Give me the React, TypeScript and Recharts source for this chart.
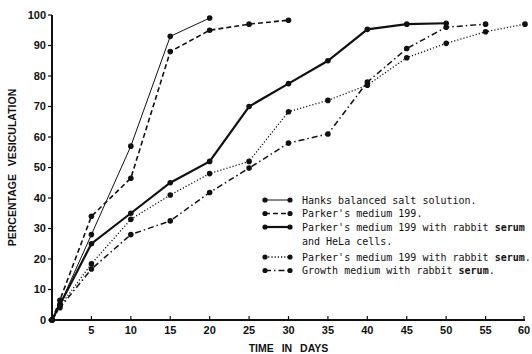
import React from 'react';
import { LineChart, Line, XAxis, YAxis } from 'recharts';

// days / percentage
const hanksDays = [0, 1, 5, 10, 15, 20];
const hanksPct = [0, 5, 28, 57, 93, 99];

const parkerDays = [0, 1, 5, 10, 15, 20, 25, 30];
const parkerPct = [0, 6.5, 34, 46.5, 88, 95, 97, 98.3];

const helaDays = [0, 1, 5, 10, 15, 20, 25, 30, 35, 40, 45, 50];
const helaPct = [0, 5, 25, 35, 45, 52, 70, 77.5, 85, 95.3, 97, 97.3];

const serumDays = [0, 1, 5, 10, 15, 20, 25, 30, 35, 40, 45, 50, 55, 60];
const serumPct = [0, 4.5, 18.4, 33, 41, 48, 52, 68.3, 72, 77, 86, 90.7, 94.5, 97];

const growthDays = [0, 1, 5, 10, 15, 20, 25, 30, 35, 40, 45, 50, 55];
const growthPct = [0, 4, 16.7, 28, 32.5, 41.8, 49.8, 58, 61, 78, 89, 96, 97];

const xTicks = [5, 10, 15, 20, 25, 30, 35, 40, 45, 50, 55, 60];
const yTicks = [0, 10, 20, 30, 40, 50, 60, 70, 80, 90, 100];

const toPoints = (days: number[], pct: number[]) =>
  days.map((d, i) => ({ day: d, pct: pct[i] }));

const series = [
  { key: 'hanks', data: toPoints(hanksDays, hanksPct), width: 1, dash: undefined, label: ['Hanks balanced salt solution.'] },
  { key: 'parker', data: toPoints(parkerDays, parkerPct), width: 1.6, dash: '5 3', label: ["Parker's medium 199."] },
  { key: 'hela', data: toPoints(helaDays, helaPct), width: 2.2, dash: undefined, label: ["Parker's medium 199 with rabbit serum", 'and HeLa cells.'] },
  { key: 'serum', data: toPoints(serumDays, serumPct), width: 1.3, dash: '1.2 2', label: ["Parker's medium 199 with rabbit serum."] },
  { key: 'growth', data: toPoints(growthDays, growthPct), width: 1.5, dash: '6 3 1.5 3', label: ['Growth medium with rabbit serum.'] },
];

const tickFont = { fontFamily: 'Liberation Sans, Arial, sans-serif', fontWeight: 700, fontSize: 11, fill: '#111' };

const XTick = (props: any) => {
  const { x, y, payload } = props;
  return (
    <g>
      <line x1={x} y1={y} x2={x} y2={y - 4} stroke="#111" strokeWidth={1.2} />
      <text x={x} y={y + 14} textAnchor="middle" {...tickFont}>
        {payload.value}
      </text>
    </g>
  );
};

// renders "serum" in bold like the original lettering
const renderLabel = (s: string) => {
  const parts = s.split(/(serum)/);
  return parts.map((p, i) =>
    p === 'serum' ? (
      <tspan key={i} fontWeight={700}>{p}</tspan>
    ) : (
      <tspan key={i}>{p}</tspan>
    )
  );
};

const LegendBox = () => {
  let rowY = 200;
  const rows: React.ReactNode[] = [];
  series.forEach((s) => {
    const y = rowY;
    rows.push(
      <g key={s.key}>
        <line x1={265} y1={y} x2={290} y2={y} stroke="#111" strokeWidth={s.width} strokeDasharray={s.dash} />
        <circle cx={265} cy={y} r={2.6} fill="#111" />
        <circle cx={290} cy={y} r={2.6} fill="#111" />
        {s.label.map((t, i) => (
          <text
            key={i}
            x={302}
            y={y + 3.5 + i * 14}
            fontFamily="DejaVu Sans Mono, monospace"
            fontSize={10}
            fill="#111"
          >
            {renderLabel(t)}
          </text>
        ))}
      </g>
    );
    rowY += s.label.length > 1 ? 30 : 13.5;
  });
  return (
    <svg width={532} height={354} style={{ position: 'absolute', left: 0, top: 0, pointerEvents: 'none' }}>
      {rows}
    </svg>
  );
};

export default function App() {
  return (
    <div style={{ position: 'absolute', left: 0, top: 0, width: 532, height: 354, background: '#fff' }}>
      <LineChart width={532} height={354} margin={{ top: 15, right: 7, bottom: 0, left: 0 }}>
        <XAxis
          type="number"
          dataKey="day"
          domain={[0, 60]}
          ticks={xTicks}
          allowDuplicatedCategory={false}
          height={34}
          tickSize={0}
          tickMargin={0}
          tick={<XTick />}
          axisLine={{ stroke: '#111', strokeWidth: 2 }}
          tickLine={false}
          label={{
            value: 'TIME IN DAYS',
            position: 'insideBottom',
            offset: 2,
            style: { ...tickFont, fontSize: 10.5, wordSpacing: 5 },
          }}
        />
        <YAxis
          type="number"
          dataKey="pct"
          domain={[0, 100]}
          ticks={yTicks}
          width={52}
          tickSize={4}
          tickMargin={2}
          tick={tickFont}
          axisLine={{ stroke: '#111', strokeWidth: 2 }}
          tickLine={{ stroke: '#111', strokeWidth: 1.2 }}
          label={{
            value: 'PERCENTAGE VESICULATION',
            angle: -90,
            position: 'insideLeft',
            offset: 12,
            style: { ...tickFont, fontSize: 10.5, textAnchor: 'middle', wordSpacing: 5 },
          }}
        />
        {series.map((s) => (
          <Line
            key={s.key}
            data={s.data}
            dataKey="pct"
            type="linear"
            stroke="#111"
            strokeWidth={s.width}
            strokeDasharray={s.dash}
            dot={{ r: 2.8, fill: '#111', stroke: '#111', strokeWidth: 0, strokeDasharray: '' }}
            isAnimationActive={false}
          />
        ))}
      </LineChart>
      <LegendBox />
    </div>
  );
}
